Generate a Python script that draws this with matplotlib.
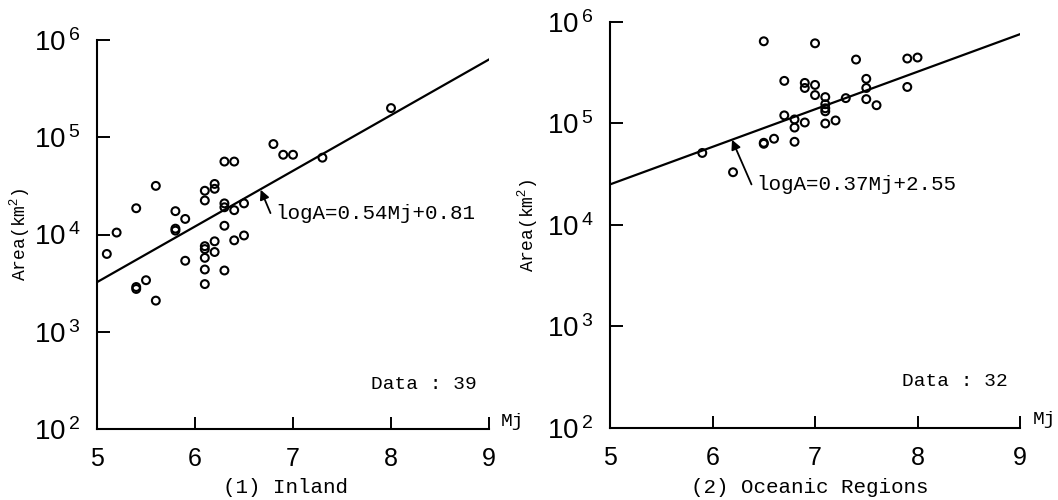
import matplotlib
matplotlib.use("Agg")
import matplotlib.pyplot as plt
from matplotlib import font_manager
from matplotlib.ticker import FixedLocator, NullLocator
import numpy as np

# (1) Inland: magnitude Mj and area (log10 km^2)
inland_mj = [5.1, 5.2, 5.4, 5.4, 5.4, 5.5, 5.6, 5.6, 5.8, 5.8, 5.8, 5.9, 5.9,
             6.1, 6.1, 6.1, 6.1, 6.1, 6.1, 6.1, 6.2, 6.2, 6.2, 6.2, 6.3, 6.3,
             6.3, 6.3, 6.3, 6.4, 6.4, 6.4, 6.5, 6.5, 6.8, 6.9, 7.0, 7.3, 8.0]
inland_loga = [3.80, 4.02, 4.27, 3.46, 3.44, 3.53, 4.50, 3.32, 4.24, 4.06, 4.04,
               4.16, 3.73, 4.45, 4.35, 3.88, 3.85, 3.76, 3.64, 3.49, 4.52, 4.47,
               3.93, 3.82, 4.75, 4.32, 4.28, 4.09, 3.63, 4.75, 4.25, 3.94, 4.32,
               3.99, 4.93, 4.82, 4.82, 4.79, 5.30]

# (2) Oceanic regions
ocean_mj = [6.5, 7.0, 7.4, 6.7, 6.9, 6.9, 7.0, 7.0, 7.1, 7.1, 7.1, 7.1, 7.3,
            7.5, 7.5, 7.5, 7.6, 6.7, 6.8, 6.8, 6.9, 7.1, 7.2, 6.5, 6.5, 6.6,
            6.8, 7.9, 8.0, 7.9, 5.9, 6.2]
ocean_loga = [5.81, 5.79, 5.63, 5.42, 5.40, 5.35, 5.38, 5.28, 5.26, 5.19, 5.15,
              5.12, 5.25, 5.44, 5.35, 5.24, 5.18, 5.08, 5.04, 4.96, 5.01, 5.00,
              5.03, 4.81, 4.80, 4.85, 4.82, 5.64, 5.65, 5.36, 4.71, 4.52]

# fitted lines as drawn (log10 A at Mj = 5 and Mj = 9)
line_mj = [5.0, 9.0]
inland_line = [3.51, 5.80]
ocean_line = [4.40, 5.88]

eq_labels = ["logA=0.54Mj+0.81", "logA=0.37Mj+2.55"]
counts = ["Data : 39", "Data : 32"]
captions = ["(1) Inland", "(2) Oceanic Regions"]

x_ticks = [5, 6, 7, 8, 9]
y_ticks = [1e2, 1e3, 1e4, 1e5, 1e6]
y_ticklabels = [r"$\mathregular{10^{\,%d}}$" % p for p in range(2, 7)]

installed = {f.name for f in font_manager.fontManager.ttflist}
TICKFONT = "Liberation Sans Narrow" if "Liberation Sans Narrow" in installed \
    else "Liberation Sans"
plt.rcParams["font.family"] = [TICKFONT, "DejaVu Sans"]
plt.rcParams["mathtext.fontset"] = "custom"
plt.rcParams["mathtext.rm"] = TICKFONT
MONO = "Liberation Mono"

fig = plt.figure(figsize=(10.58, 5.0), dpi=100)
axes = [
    fig.add_axes([0.0917, 0.142, 0.3705, 0.778]),
    fig.add_axes([0.5766, 0.144, 0.3875, 0.812]),
]
datasets = [(inland_mj, inland_loga), (ocean_mj, ocean_loga)]
lines = [inland_line, ocean_line]

# arrow tip (on line) and arrow tail / text anchor, in (Mj, logA)
arrow_tips = [(6.67, 4.46), (6.19, 4.84)]
text_pos = [(6.77, 4.22), (6.38, 4.40)]
cap_x = [0.27, 0.765]
ylabel_x = [-0.165, -0.17]

for i, ax in enumerate(axes):
    mj, loga = datasets[i]
    ax.scatter(mj, 10 ** np.array(loga), s=32, facecolors="none",
               edgecolors="black", linewidths=1.5, zorder=3)

    ax.plot(line_mj, 10 ** np.array(lines[i]), color="black", lw=1.6)

    ax.set_yscale("log")
    ax.set_xlim(5, 9)
    ax.set_ylim(1e2, 1e6)
    ax.xaxis.set_major_locator(FixedLocator(x_ticks))
    ax.set_xticklabels([str(t) for t in x_ticks], fontsize=18)
    ax.yaxis.set_major_locator(FixedLocator(y_ticks))
    ax.yaxis.set_minor_locator(NullLocator())
    ax.set_yticklabels(y_ticklabels, fontsize=20)
    ax.tick_params(axis="x", direction="in", length=9, width=1.4, pad=13)
    ax.tick_params(axis="y", direction="in", length=9, width=1.4, pad=12)

    for side in ("top", "right"):
        ax.spines[side].set_visible(False)
    for side in ("left", "bottom"):
        ax.spines[side].set_linewidth(1.5)

    ax.set_ylabel("Area(km$^2$)", fontsize=13, family=MONO)
    ax.yaxis.set_label_coords(ylabel_x[i], 0.5)

    tip = (arrow_tips[i][0], 10 ** arrow_tips[i][1])
    tx, ty = text_pos[i]
    ax.annotate("", xy=tip, xytext=(tx, 10 ** ty),
                arrowprops=dict(arrowstyle="-|>", color="black", lw=1.3,
                                mutation_scale=14, shrinkA=0, shrinkB=0))
    ax.text(tx + 0.05, 10 ** ty, eq_labels[i], fontsize=15, family=MONO,
            ha="left", va="center")

    ax.text(0.97, 0.115, counts[i], transform=ax.transAxes, fontsize=14,
            family=MONO, ha="right", va="center")
    ax.text(1.03, 0.02, "Mj", transform=ax.transAxes, fontsize=14,
            family=MONO, ha="left", va="center")

    fig.text(cap_x[i], 0.025, captions[i], fontsize=15, family=MONO,
             ha="center", va="center")

fig.savefig("out.png", dpi=100)
